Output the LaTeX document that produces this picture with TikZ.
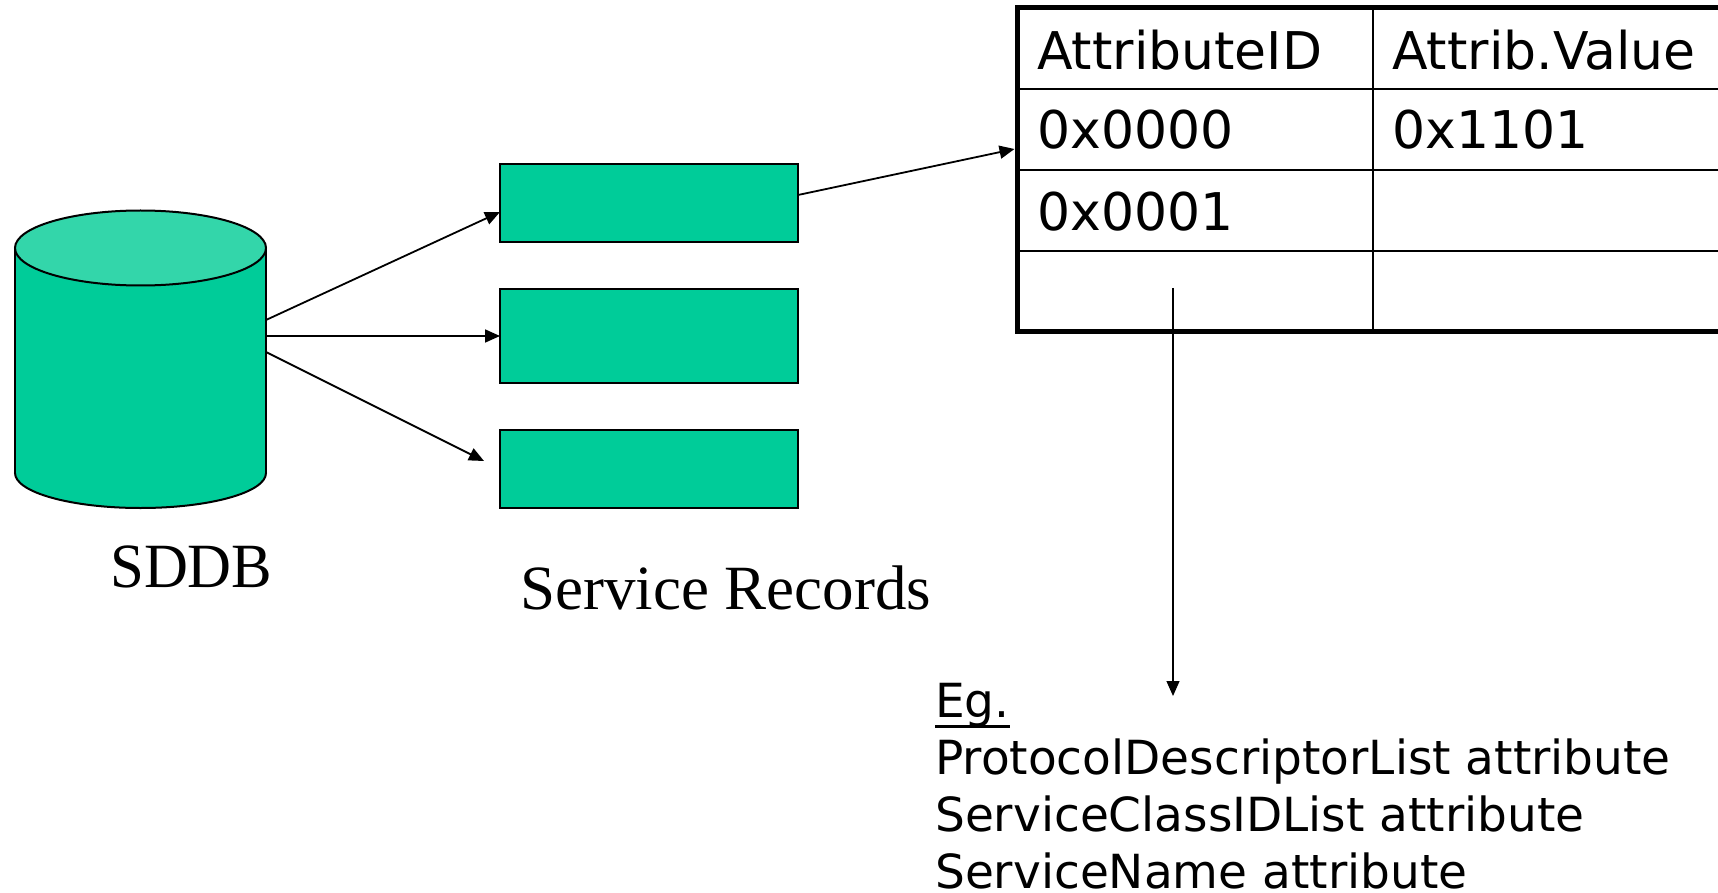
\documentclass[tikz,border=0pt]{standalone}
\usepackage{fontspec}
\newfontfamily\tablefont{DejaVu Sans}
\newfontfamily\captionfont[FakeStretch=0.965]{Liberation Serif}
\newfontfamily\captionwide{Liberation Serif}
\usetikzlibrary{arrows.meta,calc}

\definecolor{recgreen}{RGB}{0,204,153}
\definecolor{lidgreen}{RGB}{51,214,170}

% text with a rule drawn just under its baseline
\newcommand\ulinetext[1]{\leavevmode\setbox0\hbox{#1}\rlap{\rule[-10.5pt]{\wd0}{2.5pt}}\box0}

\begin{document}
\begin{tikzpicture}[x=1pt,y=-1pt,
  rec/.style={draw=black, line width=2pt, fill=recgreen, inner sep=0pt, outer sep=0pt, minimum width=298pt},
  link/.style={line width=1.8pt, -{Triangle[length=15pt,width=13pt]}},
  celltext/.style={anchor=base west, inner sep=0pt, font=\tablefont\fontsize{52}{62}\selectfont},
  captext/.style={anchor=base west, inner sep=0pt, font=\captionfont\fontsize{63}{75}\selectfont},
  notetext/.style={anchor=base west, inner sep=0pt, font=\tablefont\fontsize{47}{57}\selectfont}]

\useasboundingbox (0,0) rectangle (1718,893);
\clip (0,0) rectangle (1718,893);

% database cylinder
\filldraw[fill=recgreen, line width=2pt] (140.5,473) ellipse[x radius=125.5, y radius=35];
\fill[recgreen] (15,248) rectangle (266,473);
\draw[line width=2pt] (15,248) -- (15,473) (266,248) -- (266,473);
\filldraw[fill=lidgreen, line width=2pt] (140.5,248) ellipse[x radius=125.5, y radius=37.5];
\node[inner sep=0pt, outer sep=0pt, minimum width=251pt, minimum height=225pt] (sddb) at (140.5,360.5) {};
\node[captext] (sddblabel) at (110,587) {SDDB};

% service records
\node[rec, minimum height=78pt] (rec1) at (649,203) {};
\node[rec, minimum height=94pt] (rec2) at (649,336) {};
\node[rec, minimum height=78pt] (rec3) at (649,469) {};
\node[captext, font=\captionwide\fontsize{63}{75}\selectfont] (reclabel) at (520,609) {Service Records};

% attribute table
\draw[line width=2pt] (1373,8) -- (1373,331);
\foreach \yy in {89,170,251} \draw[line width=2pt] (1017,\yy) -- (1800,\yy);
\node[draw, line width=5pt, inner sep=0pt, outer sep=0pt, minimum width=800pt,
      minimum height=323pt, anchor=north west] (attrtab) at (1017,8) {};
\node[celltext] (hid)  at (1037,70)  {AttributeID};
\node[celltext] (hval) at (1392,70)  {Attrib.Value};
\node[celltext] (id0)  at (1037,149) {0x0000};
\node[celltext] (val0) at (1392,149) {0x1101};
\node[celltext] (id1)  at (1037,231) {0x0001};

% connectors
\draw[link] ([yshift=40.5pt]sddb.east) -- ([yshift=-9pt]rec1.west);
\draw[link] ([yshift=24.5pt]sddb.east) -- (rec2.west);
\draw[link] ([yshift=8.5pt]sddb.east) -- ([xshift=-16pt,yshift=8pt]rec3.west);
\draw[link] ([yshift=8pt]rec1.east) -- ([xshift=-2.5pt,yshift=20.5pt]attrtab.west);

\coordinate (pick) at (1173,288);
\coordinate (drop) at (1173,696);
\draw[link, line width=1.3pt] (pick) -- (drop);

% example attributes
\node[notetext] (eg)    at (935,717) {\ulinetext{Eg.}};
\node[notetext] (attr1) at (935,774) {ProtocolDescriptorList attribute};
\node[notetext] (attr2) at (935,831) {ServiceClassIDList attribute};
\node[notetext] (attr3) at (935,888) {ServiceName attribute};
\end{tikzpicture}
\end{document}
